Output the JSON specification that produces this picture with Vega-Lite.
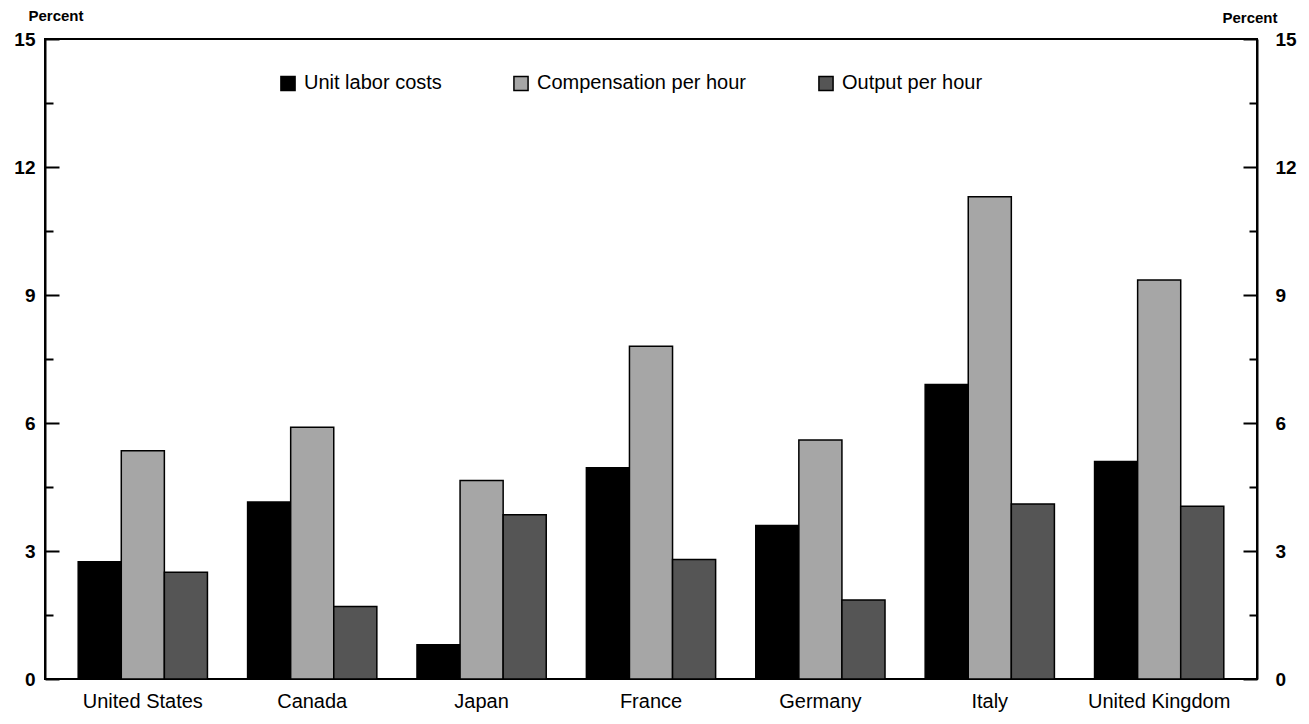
{
  "$schema": "https://vega.github.io/schema/vega-lite/v6.json",
  "width": 1212,
  "height": 640,
  "autosize": {"type": "none"},
  "padding": {"left": 45, "top": 39, "right": 52, "bottom": 45},
  "background": "white",
  "config": {"font": "Liberation Sans", "view": {"stroke": "black", "strokeWidth": 2}},
  "data": {"values": [
    {"country": "United States", "series": "Unit labor costs", "value": 2.75},
    {"country": "United States", "series": "Compensation per hour", "value": 5.35},
    {"country": "United States", "series": "Output per hour", "value": 2.5},
    {"country": "Canada", "series": "Unit labor costs", "value": 4.15},
    {"country": "Canada", "series": "Compensation per hour", "value": 5.9},
    {"country": "Canada", "series": "Output per hour", "value": 1.7},
    {"country": "Japan", "series": "Unit labor costs", "value": 0.8},
    {"country": "Japan", "series": "Compensation per hour", "value": 4.65},
    {"country": "Japan", "series": "Output per hour", "value": 3.85},
    {"country": "France", "series": "Unit labor costs", "value": 4.95},
    {"country": "France", "series": "Compensation per hour", "value": 7.8},
    {"country": "France", "series": "Output per hour", "value": 2.8},
    {"country": "Germany", "series": "Unit labor costs", "value": 3.6},
    {"country": "Germany", "series": "Compensation per hour", "value": 5.6},
    {"country": "Germany", "series": "Output per hour", "value": 1.85},
    {"country": "Italy", "series": "Unit labor costs", "value": 6.9},
    {"country": "Italy", "series": "Compensation per hour", "value": 11.3},
    {"country": "Italy", "series": "Output per hour", "value": 4.1},
    {"country": "United Kingdom", "series": "Unit labor costs", "value": 5.1},
    {"country": "United Kingdom", "series": "Compensation per hour", "value": 9.35},
    {"country": "United Kingdom", "series": "Output per hour", "value": 4.05}
  ]},
  "layer": [
    {
      "mark": {"type": "bar", "stroke": "black", "strokeWidth": 1.5},
      "encoding": {
        "x": {"field": "country", "type": "nominal",
          "sort": ["United States", "Canada", "Japan", "France", "Germany", "Italy", "United Kingdom"],
          "scale": {"paddingInner": 0.237, "paddingOuter": 0.196},
          "axis": {"title": null, "labelAngle": 0, "ticks": false, "domain": false, "labelFontSize": 20, "labelColor": "black", "labelPadding": 12}},
        "xOffset": {"field": "series", "type": "nominal",
          "sort": ["Unit labor costs", "Compensation per hour", "Output per hour"],
          "scale": {"paddingInner": 0, "paddingOuter": 0}},
        "y": {"field": "value", "type": "quantitative",
          "scale": {"domain": [0, 15], "nice": false},
          "axis": {"title": "Percent", "titleAngle": 0, "titleAlign": "left", "titleBaseline": "bottom",
            "titleX": -17, "titleY": -16, "titleFontSize": 15, "titleFontWeight": "bold", "titleColor": "black",
            "values": [0, 1.5, 3, 4.5, 6, 7.5, 9, 10.5, 12, 13.5, 15],
            "labelExpr": "datum.value % 3 === 0 ? datum.label : ''",
            "labelFontSize": 19, "labelFontWeight": "bold", "labelColor": "black", "labelPadding": 24,
            "tickSize": {"condition": {"test": "datum.value % 3 !== 0", "value": -8}, "value": -14},
            "tickColor": "black", "tickWidth": 2, "domainColor": "black", "domainWidth": 2, "grid": false}},
        "color": {"field": "series", "type": "nominal",
          "sort": ["Unit labor costs", "Compensation per hour", "Output per hour"],
          "scale": {"domain": ["Unit labor costs", "Compensation per hour", "Output per hour"], "range": ["#000000", "#a6a6a6", "#555555"]},
          "legend": {"title": null, "orient": "none", "legendX": 233, "legendY": 34, "direction": "horizontal",
            "symbolType": "square", "symbolSize": 200, "symbolStrokeColor": "black", "symbolStrokeWidth": 1.5,
            "labelFontSize": 20, "labelColor": "black", "columnPadding": 68, "labelOffset": 6, "labelLimit": 400}}
      }
    },
    {
      "mark": {"type": "bar", "opacity": 0},
      "encoding": {
        "x": {"field": "country", "type": "nominal",
          "sort": ["United States", "Canada", "Japan", "France", "Germany", "Italy", "United Kingdom"],
          "axis": {"title": null, "labelAngle": 0, "ticks": false, "domain": false, "labelFontSize": 20, "labelColor": "black", "labelPadding": 12}},
        "xOffset": {"field": "series", "type": "nominal",
          "sort": ["Unit labor costs", "Compensation per hour", "Output per hour"]},
        "y": {"field": "value", "type": "quantitative",
          "axis": {"orient": "right", "title": "Percent", "titleAngle": 0, "titleAlign": "left", "titleBaseline": "bottom",
            "titleX": -35, "titleY": -14, "titleFontSize": 15, "titleFontWeight": "bold", "titleColor": "black",
            "values": [0, 1.5, 3, 4.5, 6, 7.5, 9, 10.5, 12, 13.5, 15],
            "labelExpr": "datum.value % 3 === 0 ? datum.label : ''",
            "labelFontSize": 19, "labelFontWeight": "bold", "labelColor": "black", "labelPadding": 32,
            "tickSize": {"condition": {"test": "datum.value % 3 !== 0", "value": -8}, "value": -14},
            "tickColor": "black", "tickWidth": 2, "domainColor": "black", "domainWidth": 2, "grid": false}}
      }
    }
  ],
  "resolve": {"axis": {"y": "independent"}}
}
